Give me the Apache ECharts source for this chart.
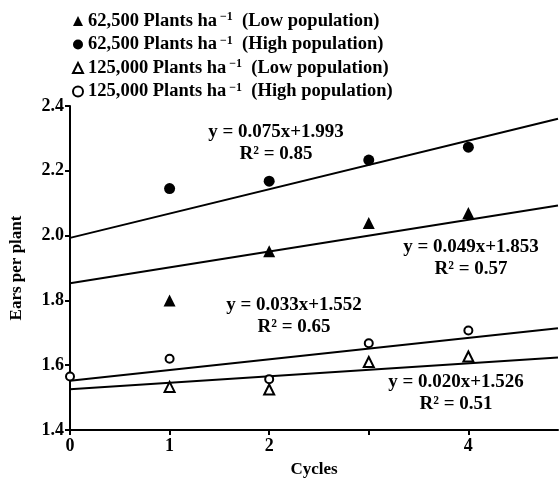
<!DOCTYPE html>
<html><head><meta charset="utf-8">
<script src="https://cdn.jsdelivr.net/npm/echarts@6/dist/echarts.min.js"></script>
<style>html,body{margin:0;padding:0;background:#fff}#c{width:560px;height:483px}</style>
</head><body><div id="c"></div>
<script>
// ---- data ----
const cycles = [0, 1, 2, 3, 4];
const xTickLabelValues = [0, 1, 2, 4];
const densityLabels = ['62,500', '62,500', '125,000', '125,000'];
const populationLabels = ['Low population', 'High population', 'Low population', 'High population'];
const low62500 = [null, 1.800, 1.952, 2.039, 2.070];
const high62500 = [null, 2.145, 2.168, 2.233, 2.273];
const low125000 = [null, 1.533, 1.525, 1.610, 1.627];
const high125000 = [1.565, 1.620, 1.557, 1.668, 1.707];
const slopes = [0.049, 0.075, 0.020, 0.033];
const intercepts = [1.853, 1.993, 1.526, 1.552];
const rSquared = ['0.57', '0.85', '0.51', '0.65'];
const slopeText = ['0.049', '0.075', '0.020', '0.033'];
const interceptText = ['1.853', '1.993', '1.526', '1.552'];

const FONT = '"Liberation Serif", "Times New Roman", serif';
const seriesValues = [low62500, high62500, low125000, high125000];
const symbols = ['triangle', 'circle', 'emptyTriangle', 'emptyCircle'];
const symbolSizes = [12, 11, 10, 8];
const names = densityLabels.map((d, i) => d + ' Plants ha-1 (' + populationLabels[i] + ')');
const X_MAX = 4.9;

const chart = echarts.init(document.getElementById('c'));

const scatterSeries = seriesValues.map((vals, i) => ({
  name: names[i],
  type: 'scatter',
  symbol: symbols[i],
  symbolSize: symbolSizes[i],
  z: 5,
  itemStyle: { color: '#000', borderColor: '#000', borderWidth: i >= 2 ? 1.8 : 0, opacity: 1 },
  data: cycles.map((x, k) => [x, vals[k]]).filter(p => p[1] !== null)
}));

const trendSeries = slopes.map((m, i) => ({
  type: 'line',
  symbol: 'none',
  silent: true,
  z: 3,
  lineStyle: { color: '#000', width: 2 },
  data: [[0, intercepts[i]], [X_MAX, intercepts[i] + m * X_MAX]]
}));

// equation annotation placement (pixel centres)
const eqPos = [[471, 247], [276, 132], [456, 382], [294, 305]];
const graphics = [];
eqPos.forEach((p, i) => {
  graphics.push({
    type: 'text', x: p[0], y: p[1],
    style: { text: 'y = ' + slopeText[i] + 'x+' + interceptText[i], font: 'bold 19px ' + FONT, fill: '#000', align: 'center', verticalAlign: 'middle' }
  });
  graphics.push({
    type: 'text', x: p[0], y: p[1] + 22,
    style: { text: 'R² = ' + rSquared[i], font: 'bold 19px ' + FONT, fill: '#000', align: 'center', verticalAlign: 'middle' }
  });
});

chart.setOption({
  animation: false,
  backgroundColor: '#fff',
  grid: { left: 70, right: 2, top: 106, bottom: 53, containLabel: false },
  legend: {
    orient: 'vertical', left: 67, top: 6, itemGap: 4,
    itemWidth: 10, itemHeight: 10,
    data: names,
    formatter: function (name) {
      const i = names.indexOf(name);
      return '{a|' + densityLabels[i] + ' Plants ha}{s|−1}{a|  (' + populationLabels[i] + ')}';
    },
    textStyle: {
      color: '#000', fontFamily: FONT, fontSize: 18.5, fontWeight: 'bold', lineHeight: 19,
      rich: {
        a: { fontFamily: FONT, fontSize: 18.5, fontWeight: 'bold', color: '#000', lineHeight: 19 },
        s: { fontFamily: FONT, fontSize: 12, fontWeight: 'bold', color: '#000', padding: [0, 0, 8, 3] }
      }
    }
  },
  xAxis: {
    type: 'value', min: 0, max: X_MAX, interval: 1,
    name: 'Cycles', nameLocation: 'middle', nameGap: 31,
    nameTextStyle: { fontFamily: FONT, fontSize: 17, fontWeight: 'bold', color: '#000' },
    axisLine: { show: true, onZero: false, lineStyle: { color: '#000', width: 2 } },
    axisTick: { show: true, length: 5, lineStyle: { color: '#000', width: 2 }, customValues: cycles },
    axisLabel: { customValues: xTickLabelValues, margin: 7, fontFamily: FONT, fontSize: 18, fontWeight: 'bold', color: '#000', formatter: v => String(v) },
    splitLine: { show: false }
  },
  yAxis: {
    type: 'value', min: 1.4, max: 2.4, interval: 0.2,
    name: 'Ears per plant', nameLocation: 'middle', nameGap: 45, nameRotate: 90,
    nameTextStyle: { fontFamily: FONT, fontSize: 17, fontWeight: 'bold', color: '#000' },
    axisLine: { show: true, onZero: false, lineStyle: { color: '#000', width: 2 } },
    axisTick: { show: true, length: 5, lineStyle: { color: '#000', width: 2 } },
    axisLabel: { margin: 6, fontFamily: FONT, fontSize: 18, fontWeight: 'bold', color: '#000', formatter: v => v.toFixed(1) },
    splitLine: { show: false }
  },
  graphic: graphics,
  series: trendSeries.concat(scatterSeries)
});
</script>
</body></html>
